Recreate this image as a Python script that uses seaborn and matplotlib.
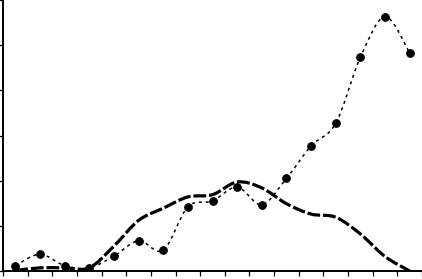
import numpy as np
import pandas as pd
import matplotlib
matplotlib.use("Agg")
import matplotlib.pyplot as plt
import seaborn as sns
from matplotlib.path import Path
from matplotlib.patches import PathPatch

# --- data ---
periods = list(range(17))
dotted_values = [0.12, 0.37, 0.12, 0.07, 0.33, 0.67, 0.46, 1.42, 1.55, 1.86,
                 1.47, 2.05, 2.77, 3.27, 4.73, 5.63, 4.83]
dashed_values = [0.01, 0.07, 0.07, 0.07, 0.55, 1.12, 1.39, 1.64, 1.69, 1.97,
                 1.84, 1.49, 1.26, 1.19, 0.82, 0.32, 0.0]
y_ticks = [0, 1, 2, 3, 4, 5, 6]

df = pd.DataFrame({"period": periods, "dotted": dotted_values, "dashed": dashed_values})

sns.set_style("ticks")
fig = plt.figure(figsize=(4.22, 2.79), dpi=100)
ax = fig.add_axes([3 / 422, 8 / 279, 419 / 422, 271 / 279])


def smooth_path(xs, ys):
    pts = np.column_stack([xs, ys]).astype(float)
    n = len(pts)
    verts = [pts[0]]
    codes = [Path.MOVETO]
    for i in range(n - 1):
        p0 = pts[i - 1] if i > 0 else pts[i]
        p1 = pts[i]
        p2 = pts[i + 1]
        p3 = pts[i + 2] if i + 2 < n else pts[i + 1]
        c1 = p1 + (p2 - p0) / 6.0
        c2 = p2 - (p3 - p1) / 6.0
        verts += [c1, c2, p2]
        codes += [Path.CURVE4] * 3
    return Path(verts, codes)


# dashed thick series (smooth)
ax.add_patch(PathPatch(smooth_path(df["period"], df["dashed"]), fill=False,
                       edgecolor="black", linewidth=2.3, linestyle=(0, (4, 0.9)),
                       capstyle="butt"))
# dotted series (smooth)
ax.add_patch(PathPatch(smooth_path(df["period"], df["dotted"]), fill=False,
                       edgecolor="black", linewidth=1.1, linestyle=(0, (2, 2.5)),
                       capstyle="butt"))
# markers via seaborn
sns.lineplot(data=df, x="period", y="dotted", ax=ax, linestyle="", marker="o",
             markersize=5.5, color="black", markeredgecolor="black")

ax.set_xlim(-0.5, 16.5)
ax.set_ylim(0, 6)
ax.set_xticks(np.arange(-0.5, 16.6, 1.0))
ax.set_yticks(y_ticks)
ax.set_xticklabels([])
ax.set_yticklabels([])
ax.set_xlabel("")
ax.set_ylabel("")
ax.tick_params(axis="both", direction="out", length=3.5, width=0.9, color="black")
for side in ["top", "right"]:
    ax.spines[side].set_visible(False)
for side in ["left", "bottom"]:
    ax.spines[side].set_linewidth(1.4)
    ax.spines[side].set_color("black")

fig.savefig("out.png", dpi=100)
